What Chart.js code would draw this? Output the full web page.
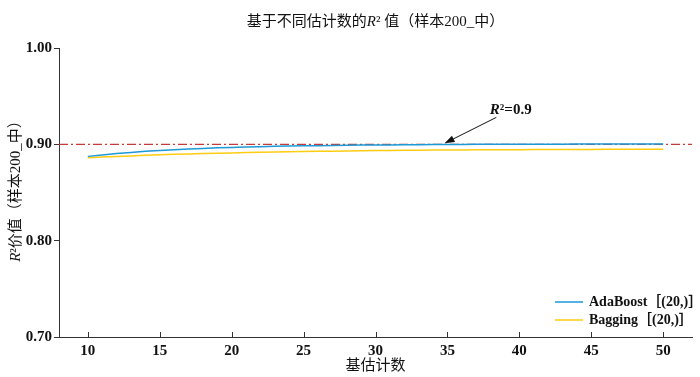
<!DOCTYPE html>
<html>
<head>
<meta charset="utf-8">
<script src="https://cdn.jsdelivr.net/npm/chart.js@4"></script>
<style>
  body { margin: 0; background: #fff; }
  canvas { display: block; }
</style>
</head>
<body>
<canvas id="r2Chart" width="700" height="377"></canvas>
<script>
// ---------- data ---------- //
const estimators = [10, 11, 12, 13, 14, 15, 16, 17, 18, 19, 20, 21, 22, 23, 24, 25, 26, 27, 28, 29, 30,
  31, 32, 33, 34, 35, 36, 37, 38, 39, 40, 41, 42, 43, 44, 45, 46, 47, 48, 49, 50];
const adaBoostR2 = [0.8875, 0.8890, 0.8904, 0.8916, 0.8927, 0.8937, 0.8945, 0.8952, 0.8958, 0.8964, 0.8968,
  0.8972, 0.8976, 0.8979, 0.8982, 0.8984, 0.8986, 0.8988, 0.8990, 0.8992, 0.8993,
  0.8994, 0.8995, 0.8996, 0.8997, 0.8998, 0.8999, 0.9000, 0.9000, 0.9001, 0.9001,
  0.9002, 0.9002, 0.9002, 0.9003, 0.9003, 0.9003, 0.9003, 0.9003, 0.9003, 0.9003];
const baggingR2 = [0.8862, 0.8868, 0.8874, 0.8880, 0.8886, 0.8891, 0.8896, 0.8900, 0.8904, 0.8908, 0.8911,
  0.8914, 0.8917, 0.8920, 0.8923, 0.8925, 0.8927, 0.8929, 0.8931, 0.8933, 0.8935,
  0.8936, 0.8938, 0.8939, 0.8940, 0.8941, 0.8942, 0.8943, 0.8944, 0.8945, 0.8945,
  0.8946, 0.8946, 0.8947, 0.8947, 0.8947, 0.8948, 0.8948, 0.8948, 0.8948, 0.8948];
const thresholdX = [8, 52];
const thresholdY = [0.9, 0.9];
const xTicks = [10, 15, 20, 25, 30, 35, 40, 45, 50];
const yTicks = [0.7, 0.8, 0.9, 1.0];
const seriesLabels = ["AdaBoost［(20,)］", "Bagging［(20,)］"];

const serif = "'Liberation Serif', 'Noto Sans CJK SC', serif";

function toPoints(xs, ys) {
  return xs.map((x, i) => ({ x: x, y: ys[i] }));
}

// draw a run of text pieces, some italic
function drawPieces(ctx, pieces, x, y, size, weight) {
  let total = 0;
  pieces.forEach((p) => {
    ctx.font = (p.italic ? "italic " : "") + weight + " " + size + "px " + serif;
    p.w = ctx.measureText(p.t).width;
    total += p.w;
  });
  let cx = x - total / 2;
  pieces.forEach((p) => {
    ctx.font = (p.italic ? "italic " : "") + weight + " " + size + "px " + serif;
    ctx.fillText(p.t, cx, y);
    cx += p.w;
  });
}

// ---------- titles, legend, annotation ---------- //
const decorPlugin = {
  id: "decor",
  afterDraw(chart) {
    const ctx = chart.ctx;
    const area = chart.chartArea;
    const xs = chart.scales.x;
    const ys = chart.scales.y;
    ctx.save();
    ctx.fillStyle = "#111";
    ctx.textBaseline = "middle";
    ctx.textAlign = "left";

    // chart title
    drawPieces(ctx, [
      { t: "基于不同估计数的" },
      { t: "R", italic: true },
      { t: "² 值（样本200_中）" },
    ], (area.left + area.right) / 2, 22, 15, "normal");

    // x axis title
    drawPieces(ctx, [{ t: "基估计数" }], (area.left + area.right) / 2, 366, 15, "normal");

    // y axis title
    ctx.save();
    ctx.translate(16, (area.top + area.bottom) / 2 - 5);
    ctx.rotate(-Math.PI / 2);
    drawPieces(ctx, [
      { t: "R", italic: true },
      { t: "²价值（样本200_中）" },
    ], 0, 0, 15, "normal");
    ctx.restore();

    // inward x ticks
    ctx.strokeStyle = "#333";
    ctx.lineWidth = 1;
    xTicks.forEach((v) => {
      const px = Math.round(xs.getPixelForValue(v)) + 0.5;
      ctx.beginPath();
      ctx.moveTo(px, area.bottom);
      ctx.lineTo(px, area.bottom - 5);
      ctx.stroke();
    });

    // annotation arrow to the threshold line
    const tipX = xs.getPixelForValue(34.8);
    const tipY = ys.getPixelForValue(0.9) - 1;
    const tailX = xs.getPixelForValue(38.4);
    const tailY = ys.getPixelForValue(0.928);
    const ang = Math.atan2(tipY - tailY, tipX - tailX);
    ctx.strokeStyle = "#111";
    ctx.beginPath();
    ctx.moveTo(tailX, tailY);
    ctx.lineTo(tipX - 6 * Math.cos(ang), tipY - 6 * Math.sin(ang));
    ctx.stroke();
    ctx.beginPath();
    ctx.moveTo(tipX, tipY);
    ctx.lineTo(tipX - 10 * Math.cos(ang) + 3.5 * Math.sin(ang), tipY - 10 * Math.sin(ang) - 3.5 * Math.cos(ang));
    ctx.lineTo(tipX - 10 * Math.cos(ang) - 3.5 * Math.sin(ang), tipY - 10 * Math.sin(ang) + 3.5 * Math.cos(ang));
    ctx.closePath();
    ctx.fill();
    drawPieces(ctx, [
      { t: "R", italic: true },
      { t: "²=0.9" },
    ], xs.getPixelForValue(39.4), ys.getPixelForValue(0.9355), 15, "bold");

    // legend (bottom right, inside the plot)
    const sets = chart.data.datasets.slice(0, 2);
    sets.forEach((ds, i) => {
      const ly = 302 + i * 18;
      ctx.strokeStyle = ds.borderColor;
      ctx.lineWidth = 1.5;
      ctx.beginPath();
      ctx.moveTo(555, ly);
      ctx.lineTo(583, ly);
      ctx.stroke();
      ctx.font = "bold 14px " + serif;
      ctx.textAlign = "left";
      ctx.fillText(ds.label, 589, ly);
    });
    ctx.restore();
  },
};

// ---------- chart ---------- //
new Chart(document.getElementById("r2Chart"), {
  type: "line",
  data: {
    datasets: [
      {
        label: seriesLabels[0],
        data: toPoints(estimators, adaBoostR2),
        borderColor: "#1b9ad6",
        borderWidth: 1.5,
        pointRadius: 0,
      },
      {
        label: seriesLabels[1],
        data: toPoints(estimators, baggingR2),
        borderColor: "#ffcc11",
        borderWidth: 1.5,
        pointRadius: 0,
      },
      {
        label: "R2 = 0.9",
        data: toPoints(thresholdX, thresholdY),
        borderColor: "#c83a3a",
        borderWidth: 1.3,
        borderDash: [9, 3, 2, 3],
        pointRadius: 0,
      },
    ],
  },
  options: {
    responsive: false,
    animation: false,
    devicePixelRatio: 1,
    layout: { padding: { top: 48, right: 8, left: 0, bottom: 0 } },
    plugins: {
      legend: { display: false },
      title: { display: false },
      tooltip: { enabled: false },
    },
    scales: {
      x: {
        type: "linear",
        min: 8,
        max: 52,
        grid: { display: false, drawTicks: false },
        border: { display: true, color: "#333", width: 1 },
        ticks: { font: { family: serif, size: 15, weight: "bold" }, color: "#111", padding: 5 },
        afterBuildTicks: (s) => { s.ticks = xTicks.map((v) => ({ value: v })); },
        afterFit: (s) => { s.height = 40; },
      },
      y: {
        min: 0.7,
        max: 1.0,
        grid: { drawOnChartArea: false, drawTicks: true, tickLength: 5, color: "#333" },
        border: { display: true, color: "#333", width: 1 },
        ticks: {
          font: { family: serif, size: 15, weight: "bold" },
          color: "#111",
          padding: 2,
          callback: (v) => Number(v).toFixed(2),
        },
        afterBuildTicks: (s) => { s.ticks = yTicks.map((v) => ({ value: v })); },
        afterFit: (s) => { s.width = 59; },
      },
    },
  },
  plugins: [decorPlugin],
});
</script>
</body>
</html>
